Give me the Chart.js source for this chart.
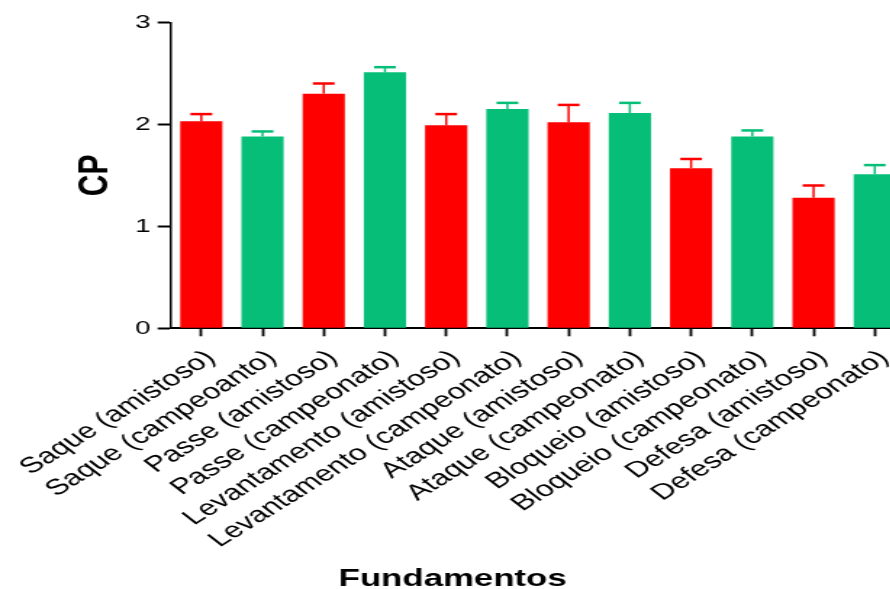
<!DOCTYPE html>
<html>
<head>
<meta charset="utf-8">
<script src="https://cdn.jsdelivr.net/npm/chart.js@4/dist/chart.umd.min.js"></script>
<style>
  html, body { margin: 0; padding: 0; background: #fff; overflow: hidden; width: 890px; height: 589px; }
  /* the figure is drawn narrow and widened horizontally, like the exported graph */
  #wrap { position: absolute; left: 0; top: 0; width: 628px; height: 589px; transform: scaleX(1.45); transform-origin: 0 0; }
  canvas { display: block; }
</style>
</head>
<body>
<div id="wrap"><canvas id="c" width="628" height="589"></canvas></div>
<script>
// Fundamentos (friendly vs. championship)
const categories = [
  'Saque (amistoso)', 'Saque (campeoanto)',
  'Passe (amistoso)', 'Passe (campeonato)',
  'Levantamento (amistoso)', 'Levantamento (campeonato)',
  'Ataque (amistoso)', 'Ataque (campeonato)',
  'Bloqueio (amistoso)', 'Bloqueio (campeonato)',
  'Defesa (amistoso)', 'Defesa (campeonato)'
];
// mean CP per fundamento
const cpMeans = [2.03, 1.88, 2.30, 2.51, 1.99, 2.15, 2.02, 2.11, 1.57, 1.88, 1.28, 1.51];
// upper error bar length
const cpErrors = [0.07, 0.05, 0.10, 0.05, 0.11, 0.06, 0.17, 0.10, 0.09, 0.06, 0.12, 0.09];
// y axis tick values
const yTicks = [0, 1, 2, 3];

const RED = '#FF0000';
const GREEN = '#06BE78';
const FONT = "'Liberation Sans', Arial, Helvetica, sans-serif";
const barColors = categories.map(c => c.includes('amistoso') ? RED : GREEN);

// draws the upper half of each error bar with a cap
const errorBars = {
  id: 'errorBars',
  afterDatasetsDraw(chart) {
    const ctx = chart.ctx;
    const y = chart.scales.y;
    const meta = chart.getDatasetMeta(0);
    ctx.save();
    meta.data.forEach((bar, i) => {
      const top = y.getPixelForValue(cpMeans[i] + cpErrors[i]);
      ctx.strokeStyle = barColors[i];
      ctx.lineWidth = 1.5;
      ctx.beginPath();
      ctx.moveTo(bar.x, bar.y);
      ctx.lineTo(bar.x, top);
      ctx.stroke();
      ctx.lineWidth = 2.5;
      ctx.beginPath();
      ctx.moveTo(bar.x - 7.5, top);
      ctx.lineTo(bar.x + 7.5, top);
      ctx.stroke();
    });
    ctx.restore();
  }
};

new Chart(document.getElementById('c'), {
  type: 'bar',
  data: {
    labels: categories,
    datasets: [{
      data: cpMeans,
      backgroundColor: barColors,
      borderWidth: 0,
      barPercentage: 0.69,
      categoryPercentage: 1.0
    }]
  },
  options: {
    responsive: false,
    animation: false,
    devicePixelRatio: 1,
    layout: { padding: { top: 22.3, left: 0, right: 3.6, bottom: 0 } },
    plugins: {
      legend: { display: false },
      tooltip: { enabled: false },
      title: {
        display: true,
        position: 'bottom',
        text: 'Fundamentos',
        color: '#000',
        font: { family: FONT, size: 24, weight: 'bold', lineHeight: 0.8 },
        padding: { top: 0, bottom: 0 }
      }
    },
    scales: {
      x: {
        offset: true,
        grid: { display: true, offset: false, drawOnChartArea: false, drawTicks: true,
                tickLength: 8, tickColor: '#000', tickWidth: 1.8, color: '#000' },
        border: { display: true, color: '#000', width: 2 },
        ticks: {
          color: '#000',
          font: { family: FONT, size: 22 },
          minRotation: 42, maxRotation: 42,
          autoSkip: false,
          padding: 9,
          labelOffset: 6.5
        },
        afterFit(scale) {
          scale.height = 241.5;
          // the slanted labels may run under the y axis labels
          scale.paddingLeft = 0;
          scale.paddingRight = 0;
        }
      },
      y: {
        min: 0, max: 3,
        afterBuildTicks(scale) { scale.ticks = yTicks.map(v => ({ value: v })); },
        grid: { display: true, drawOnChartArea: false, drawTicks: true,
                tickLength: 9, tickColor: '#000', tickWidth: 2, color: '#000' },
        border: { display: true, color: '#000', width: 1.5 },
        ticks: { color: '#000', font: { family: FONT, size: 19 }, padding: 5 },
        title: {
          display: true,
          text: 'CP',
          color: '#000',
          font: { family: FONT, size: 30, weight: 'bold' },
          padding: { top: 48, bottom: 0 }
        },
        afterFit(scale) { scale.width = 117.7; }
      }
    }
  },
  plugins: [errorBars]
});
</script>
</body>
</html>
